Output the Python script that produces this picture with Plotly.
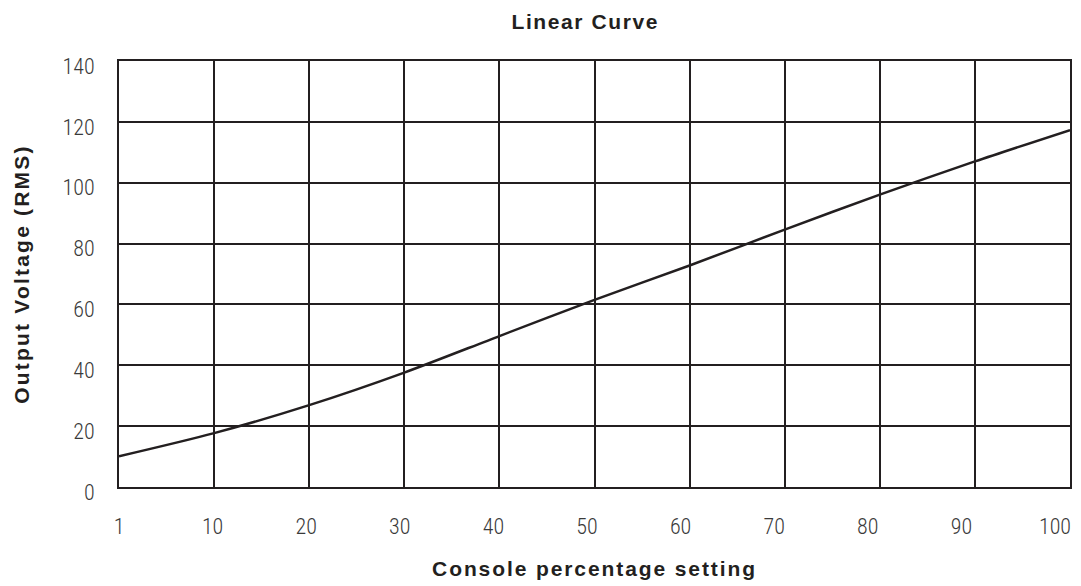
import plotly.graph_objects as go

settings = ["1", "10", "20", "30", "40", "50", "60", "70", "80", "90", "100"]
voltage = [10.1, 17.7, 26.9, 37.6, 49.6, 61.5, 72.8, 84.6, 96.1, 107.0, 117.3]
y_ticks = [0, 20, 40, 60, 80, 100, 120, 140]

INK = "#231f20"
THIN = "Roboto Condensed, Roboto, sans-serif"
BOLD = "Liberation Sans, Arial, sans-serif"


def spaced(txt, px):
    return f'<span style="letter-spacing:{px}px"><b>{txt}</b></span>'


fig = go.Figure()
fig.add_trace(go.Scatter(
    x=settings, y=voltage, mode="lines",
    line=dict(color=INK, width=2.5, shape="spline", smoothing=0.8),
    hoverinfo="x+y", showlegend=False,
))
# carrier for the tick-label axis (labels sit slightly off the grid in the original)
fig.add_trace(go.Scatter(
    x=settings, y=[None] * len(settings), xaxis="x2", mode="lines",
    hoverinfo="skip", showlegend=False,
))

fig.update_layout(
    width=1073, height=578,
    margin=dict(l=111, r=9, t=53, b=98),
    paper_bgcolor="white", plot_bgcolor="white",
    title=dict(text=spaced("Linear Curve", 1.6), x=0.538, xanchor="center", y=0.977, yanchor="middle",
               font=dict(family=BOLD, size=21, color=INK)),
    xaxis=dict(
        type="category", categoryorder="array", categoryarray=settings, range=[0, 10],
        showgrid=True, gridcolor=INK, gridwidth=2,
        showline=True, linecolor=INK, linewidth=2, mirror=True,
        ticks="", showticklabels=False,
        zeroline=False, fixedrange=True,
    ),
    xaxis2=dict(
        type="category", categoryorder="array", categoryarray=settings, range=[0, 10.16],
        overlaying="x", anchor="y", side="bottom",
        showgrid=False, showline=False, zeroline=False, ticks="",
        tickfont=dict(family=THIN, size=22, color="#3a3a3a", weight=300),
        ticklabelstandoff=24,
        title=dict(text=spaced("Console percentage setting", 1.9), standoff=23,
                   font=dict(family=BOLD, size=21, color=INK)),
        fixedrange=True,
    ),
    yaxis=dict(
        range=[0, 140], tickvals=y_ticks,
        showgrid=True, gridcolor=INK, gridwidth=2,
        showline=True, linecolor=INK, linewidth=2, mirror=True,
        ticks="", tickfont=dict(family=THIN, size=22, color="#3a3a3a", weight=300),
        ticklabelstandoff=18, ticklabelshift=5,
        title=dict(text=spaced("Output Voltage (RMS)", 2.2), standoff=27,
                   font=dict(family=BOLD, size=21, color=INK)),
        zeroline=False, fixedrange=True,
    ),
)

fig.write_html("out.html")
